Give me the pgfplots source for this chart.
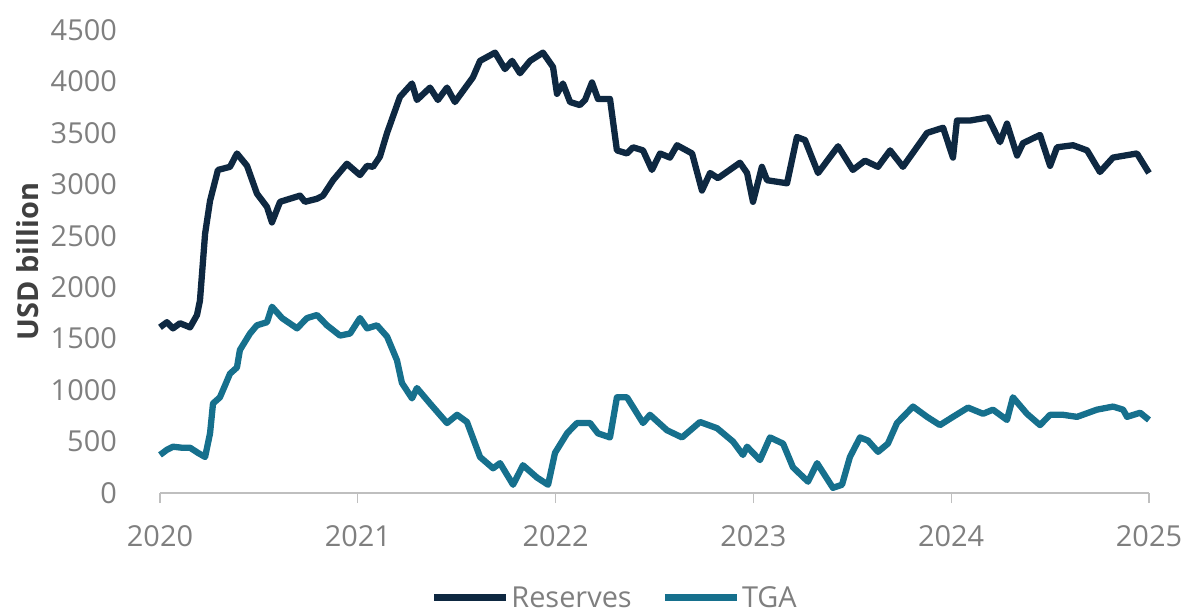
\documentclass[border=0pt]{standalone}
\usepackage{pgfplots}
\pgfplotsset{compat=1.18}
\usepackage{fontspec}
\setmainfont{Open Sans}
\definecolor{resc}{HTML}{0E2841}
\definecolor{tgac}{HTML}{16708D}
\definecolor{tickgray}{HTML}{7F7F7F}
\definecolor{axgray}{HTML}{BFBFBF}
\begin{document}
\begin{tikzpicture}
\useasboundingbox (0,0) rectangle (1188bp,615bp);
\begin{axis}[
  at={(160bp,122bp)}, anchor=south west,
  scale only axis, width=989bp, height=463bp,
  xmin=2020, xmax=2025, ymin=0, ymax=4500,
  clip=false,
  axis x line*=bottom, axis y line*=left,
  x axis line style={axgray, line width=1.2bp, -},
  y axis line style={draw=none},
  xtick={2020,2021,2022,2023,2024,2025},
  xticklabels={2020,2021,2022,2023,2024,2025},
  ytick={0,500,1000,1500,2000,2500,3000,3500,4000,4500},
  yticklabels={0,500,1000,1500,2000,2500,3000,3500,4000,4500},
  xtick style={axgray, line width=1.2bp},
  ytick style={draw=none},
  major tick length=10bp,
  tick align=outside,
  xticklabel style={font=\fontsize{29}{32}\selectfont, text=tickgray, inner sep=0pt, anchor=north, yshift=-22bp},
  yticklabel style={font=\fontsize{29}{32}\selectfont, text=tickgray, inner sep=0pt, anchor=east, xshift=-33bp},
  ylabel={USD billion},
  ylabel style={font=\fontsize{29}{32}\selectfont\bfseries, text=black!75, at={(axis description cs:-0.1335,0.5)}, anchor=center, rotate=0},
  legend columns=2,
  legend style={draw=none, fill=none, at={(axis description cs:0.46,-0.226)}, anchor=center,
    font=\fontsize{29}{32}\selectfont, text=tickgray, inner sep=0pt,
    /tikz/every even column/.append style={column sep=28bp}},
  legend cell align=left,
  legend image code/.code={\draw[#1] (0bp,0bp) -- (72bp,0bp);},
]
\addplot[resc, line width=6.3bp, line join=round] coordinates {
(2020.000,1610) (2020.035,1660) (2020.066,1600) (2020.101,1650) (2020.152,1610)
(2020.187,1730) (2020.202,1870) (2020.228,2520) (2020.253,2840) (2020.293,3140)
(2020.354,3170) (2020.389,3300) (2020.440,3180) (2020.490,2910) (2020.541,2780)
(2020.566,2630) (2020.607,2830) (2020.657,2860) (2020.708,2890) (2020.733,2830)
(2020.794,2860) (2020.824,2890) (2020.875,3040) (2020.945,3200) (2021.011,3090)
(2021.047,3180) (2021.077,3170) (2021.112,3270) (2021.148,3500) (2021.213,3850)
(2021.274,3980) (2021.299,3820) (2021.365,3940) (2021.405,3820) (2021.451,3940)
(2021.491,3800) (2021.582,4040) (2021.618,4200) (2021.694,4280) (2021.744,4120)
(2021.780,4200) (2021.820,4080) (2021.871,4200) (2021.936,4280) (2021.987,4140)
(2022.007,3880) (2022.037,3980) (2022.073,3800) (2022.123,3770) (2022.149,3820)
(2022.184,3990) (2022.214,3830) (2022.275,3830) (2022.310,3330) (2022.361,3300)
(2022.391,3360) (2022.442,3330) (2022.487,3140) (2022.528,3300) (2022.578,3260)
(2022.614,3380) (2022.690,3300) (2022.740,2940) (2022.781,3110) (2022.821,3060)
(2022.932,3210) (2022.968,3110) (2022.998,2830) (2023.043,3170) (2023.069,3040)
(2023.170,3010) (2023.220,3460) (2023.261,3430) (2023.327,3110) (2023.428,3370)
(2023.503,3140) (2023.564,3230) (2023.630,3170) (2023.691,3330) (2023.756,3170)
(2023.878,3500) (2023.959,3550) (2024.009,3260) (2024.029,3620) (2024.095,3620)
(2024.186,3650) (2024.247,3410) (2024.282,3590) (2024.333,3280) (2024.363,3400)
(2024.449,3480) (2024.500,3180) (2024.535,3360) (2024.616,3380) (2024.687,3330)
(2024.752,3120) (2024.818,3260) (2024.939,3300) (2025.000,3110)
};
\addlegendentry{Reserves}
\addplot[tgac, line width=6.3bp, line join=round] coordinates {
(2020.000,370) (2020.035,420) (2020.066,450) (2020.111,440) (2020.152,440)
(2020.192,390) (2020.228,350) (2020.253,580) (2020.268,870) (2020.303,930)
(2020.354,1160) (2020.389,1220) (2020.404,1390) (2020.455,1550) (2020.490,1630)
(2020.541,1660) (2020.566,1810) (2020.617,1700) (2020.693,1600) (2020.743,1700)
(2020.794,1730) (2020.844,1630) (2020.910,1530) (2020.961,1550) (2021.011,1700)
(2021.047,1600) (2021.097,1630) (2021.148,1520) (2021.198,1290) (2021.223,1070)
(2021.274,920) (2021.299,1020) (2021.365,870) (2021.451,680) (2021.502,760)
(2021.552,690) (2021.618,350) (2021.684,240) (2021.719,290) (2021.785,80)
(2021.835,270) (2021.906,150) (2021.962,80) (2021.997,390) (2022.058,580)
(2022.108,680) (2022.174,680) (2022.214,580) (2022.275,540) (2022.310,930)
(2022.361,930) (2022.442,680) (2022.477,760) (2022.563,610) (2022.639,540)
(2022.730,690) (2022.816,630) (2022.897,500) (2022.947,370) (2022.968,450)
(2023.033,320) (2023.084,540) (2023.150,480) (2023.200,250) (2023.276,110)
(2023.322,290) (2023.402,50) (2023.448,80) (2023.488,350) (2023.539,540)
(2023.579,510) (2023.630,400) (2023.680,480) (2023.726,680) (2023.807,840)
(2023.878,740) (2023.943,660) (2024.009,740) (2024.085,830) (2024.161,770)
(2024.211,810) (2024.282,710) (2024.312,930) (2024.383,770) (2024.449,660)
(2024.500,760) (2024.565,760) (2024.636,740) (2024.737,810) (2024.818,840)
(2024.869,810) (2024.889,740) (2024.955,780) (2025.000,710)
};
\addlegendentry{TGA}
\end{axis}
\end{tikzpicture}
\end{document}
